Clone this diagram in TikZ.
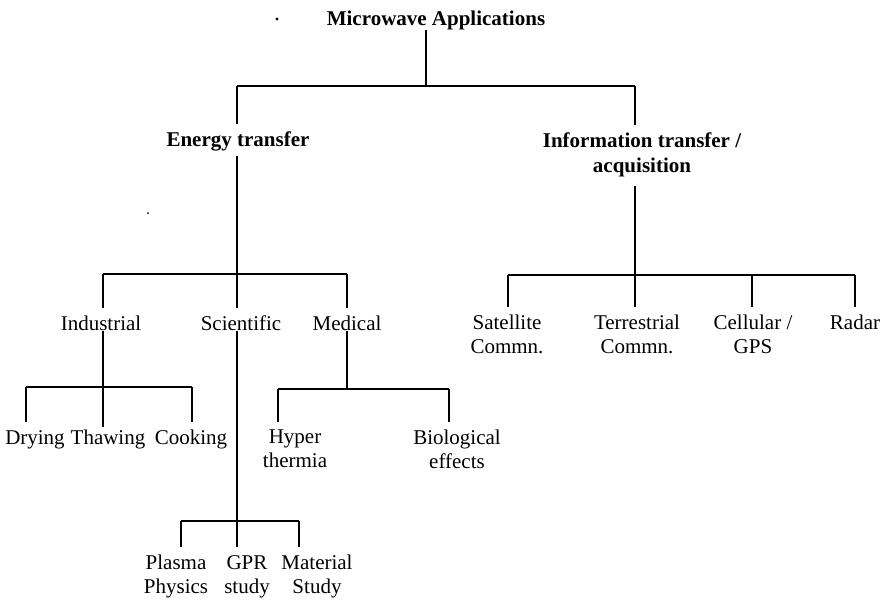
\documentclass[tikz,border=0pt]{standalone}
\usepackage{fontspec}
\setmainfont{Liberation Serif}
\begin{document}
\begin{tikzpicture}[x=1pt,y=-1pt,
  lbl/.style={font=\fontsize{21}{24}\selectfont, inner sep=0pt, align=center, anchor=north},
  hdr/.style={font=\fontsize{21}{25}\selectfont\bfseries, inner sep=0pt, align=center, anchor=north},
  wire/.style={line width=1.6pt},
  drop/.style={wire, shorten >=8pt}]
\useasboundingbox (0,0) rectangle (888,602);

% headers
\node[hdr] (root) at (436,11) {Microwave Applications};
\node[hdr] (energy) at (238,132) {Energy transfer};
\node[hdr] (info) at (642,133) {Information transfer /\\acquisition};

% energy children
\node[lbl] (ind) at (101,316) {Industrial};
\node[lbl] (sci) at (241,316) {Scientific};
\node[lbl] (med) at (347,316) {Medical};

\node[lbl] (dry) at (35,430) {Drying};
\node[lbl] (thaw) at (108,430) {Thawing};
\node[lbl] (cook) at (191,430) {Cooking};

\node[lbl] (hyp) at (295,430) {Hyper\\thermia};
\node[lbl] (bio) at (457,430) {Biological\\effects};

\node[lbl] (plas) at (176,555) {Plasma\\Physics};
\node[lbl] (gpr) at (247,555) {GPR\\study};
\node[lbl] (mat) at (317,555) {Material\\Study};

% information children
\node[lbl] (sat) at (507,315) {Satellite\\Commn.};
\node[lbl] (ter) at (637,315) {Terrestrial\\Commn.};
\node[lbl] (cel) at (753,315) {Cellular /\\GPS};
\node[lbl] (rad) at (855,315) {Radar};

% bus coordinates
\coordinate (rb) at (426,86);
\coordinate (rL) at (237,86);
\coordinate (rR) at (635,86);

\coordinate (eb) at (237,274);
\coordinate (el) at (103,274);
\coordinate (er) at (347,274);

\coordinate (ib) at (103,387);
\coordinate (il) at (26,387);
\coordinate (ir) at (192,387);

\coordinate (sb) at (237,521);
\coordinate (sl) at (181,521);
\coordinate (sr) at (299,521);

\coordinate (mb) at (347,389);
\coordinate (ml) at (278,389);
\coordinate (mr) at (449,389);

\coordinate (qb) at (635,275);
\coordinate (ql) at (508,275);
\coordinate (qc) at (752,275);
\coordinate (qr) at (855,275);

% root
\draw[wire] (root.south -| rb) -- (rb);
\draw[wire] (rL) -- (rR);
\draw[drop] (rL) -- (rL |- energy.north);
\draw[drop] (rR) -- (rR |- info.north);

% energy
\draw[wire] (energy.south -| eb) ++(0,4) -- (eb);
\draw[wire] (el) -- (er);
\draw[drop] (el) -- (el |- ind.north);
\draw[drop] (eb) -- (eb |- sci.north);
\draw[drop] (er) -- (er |- med.north);

% industrial
\draw[wire] (ind.south -| ib) -- (ib);
\draw[wire] (il) -- (ir);
\draw[drop] (il) -- (il |- dry.north);
\draw[wire, shorten >=3pt] (ib) -- (ib |- thaw.north);
\draw[drop] (ir) -- (ir |- cook.north);

% scientific
\draw[wire] (sci.south -| sb) -- (sb);
\draw[wire] (sl) -- (sr);
\draw[drop] (sl) -- (sl |- plas.north);
\draw[drop] (sb) -- (sb |- gpr.north);
\draw[drop] (sr) -- (sr |- mat.north);

% medical
\draw[wire] (med.south -| mb) -- (mb);
\draw[wire] (ml) -- (mr);
\draw[drop] (ml) -- (ml |- hyp.north);
\draw[drop] (mr) -- (mr |- bio.north);

% information
\draw[wire] (info.south -| qb) ++(0,8) -- (qb);
\draw[wire] (ql) -- (qr);
\draw[drop] (ql) -- (ql |- sat.north);
\draw[drop] (qb) -- (qb |- ter.north);
\draw[drop] (qc) -- (qc |- cel.north);
\draw[drop] (qr) -- (qr |- rad.north);

% stray marks
\fill (277,19) circle (1.6pt);
\fill (148,213) circle (1pt);
\end{tikzpicture}
\end{document}
